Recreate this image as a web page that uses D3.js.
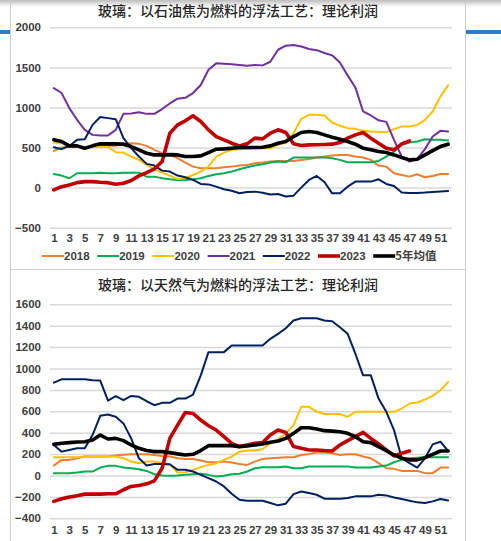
<!DOCTYPE html>
<html><head><meta charset="utf-8">
<script src="https://cdn.jsdelivr.net/npm/d3@7"></script>
<style>
html,body{margin:0;padding:0;background:#fff;}
svg{display:block;}
</style></head>
<body>
<svg id="c" width="501" height="541"></svg>
<script>
const weeks = d3.range(1, 53);
const xTickLabels = d3.range(1, 52, 2);
const seriesNames = ["2018","2019","2020","2021","2022","2023","5年均值"];
const colors = ["#ED7D31","#00B050","#FFC000","#7030A0","#002060","#C00000","#000000"];
const colorsGas = ["#ED7D31","#00B050","#FFC000","#002060","#002060","#C00000","#000000"];

// Chart 1: petroleum coke
const title1 = "玻璃：以石油焦为燃料的浮法工艺：理论利润";
const ticks1 = [-500, 0, 500, 1000, 1500, 2000];
const coke2018 = [458,500,512,512,492,512,521,521,521,546,554,546,521,471,429,408,367,312,262,242,242,242,254,262,275,283,304,312,325,333,333,333,346,358,375,387,400,408,408,387,375,346,275,262,179,158,137,167,129,146,171,171];
const coke2019 = [171,150,117,179,179,179,187,179,179,187,187,187,137,137,117,104,96,96,104,117,146,167,179,200,229,254,275,292,312,325,317,375,375,375,375,375,367,346,317,317,317,317,333,387,450,533,562,575,604,596,596,587];
const coke2020 = [562,554,533,512,504,508,512,504,442,437,388,346,283,229,187,150,108,117,158,200,262,387,437,471,480,485,487,490,492,533,562,679,858,908,908,900,812,771,742,733,708,700,696,692,729,762,762,783,846,950,1138,1275];
const coke2021 = [1242,1180,992,846,720,658,650,650,721,920,925,940,920,920,980,1050,1110,1120,1180,1280,1470,1550,1545,1540,1530,1520,1530,1525,1570,1720,1770,1780,1760,1730,1715,1680,1650,1560,1400,1250,950,900,840,820,596,387,325,360,480,637,708,700];
const coke2022 = [504,480,520,596,604,783,880,867,854,617,492,388,296,275,212,200,150,129,96,46,40,12,-20,-40,-70,-55,-50,-65,-85,-80,-110,-100,0,96,146,70,-71,-71,12,75,75,75,104,46,21,-62,-68,-66,-62,-55,-48,-42];
const coke2023 = [-29,12,33,62,75,75,67,62,42,54,88,146,187,233,325,679,783,833,896,825,720,637,596,554,520,546,617,608,679,721,688,546,525,533,535,538,542,562,617,658,688,617,554,492,471,546,583];
const coke5y = [596,575,521,521,492,521,546,546,546,542,512,471,429,408,408,412,408,388,388,396,437,479,483,492,500,500,500,504,521,554,575,637,688,700,688,658,629,604,575,542,492,471,450,437,408,375,346,354,408,462,512,542];

// Chart 2: natural gas
const title2 = "玻璃：以天然气为燃料的浮法工艺：理论利润";
const ticks2 = [-400, -200, 0, 200, 400, 600, 800, 1000, 1200, 1400, 1600];
const gas2018 = [93,146,146,161,177,177,177,177,186,195,198,198,198,192,183,177,161,155,155,140,124,124,130,121,108,99,130,155,161,167,170,170,192,202,214,214,208,192,198,198,177,161,115,68,62,43,43,43,22,22,74,74];
const gas2019 = [22,22,22,28,37,37,74,90,90,74,68,59,43,12,0,-3,0,6,12,16,6,-9,-3,12,16,37,68,78,78,78,84,68,68,84,84,84,84,84,84,74,74,74,84,93,124,146,161,167,170,170,170,170];
const gas2020 = [170,170,170,170,177,177,177,177,177,161,130,115,130,130,115,99,28,31,53,78,99,115,146,177,223,233,233,248,301,338,394,471,642,642,595,574,574,574,549,595,595,595,595,595,595,626,673,682,710,744,797,874];
const gas2021 = [868,899,899,899,899,890,887,700,741,704,744,735,694,657,679,679,719,719,756,936,1153,1153,1153,1215,1215,1215,1215,1215,1277,1324,1376,1448,1469,1469,1469,1448,1441,1386,1324,1138,936,936,719,595,425,161,115,74,161,291,316,229];
const gas2022 = [285,223,239,254,254,378,558,570,549,487,347,161,93,108,108,105,53,53,37,6,-25,-56,-102,-171,-226,-236,-236,-236,-257,-279,-264,-174,-149,-164,-180,-217,-217,-217,-211,-195,-195,-195,-180,-186,-205,-220,-236,-251,-257,-242,-220,-233];
const gas2023 = [-242,-217,-202,-189,-174,-174,-174,-171,-171,-133,-102,-93,-78,-50,68,347,471,589,580,518,465,425,363,301,270,285,301,307,378,425,403,270,254,239,239,233,229,285,326,363,403,347,295,239,183,208,229];
const gas5y = [291,301,307,313,316,332,378,341,347,326,285,254,233,223,223,214,202,192,198,233,279,279,279,279,270,276,285,295,310,322,347,394,446,446,434,419,415,409,394,363,316,307,270,233,192,161,146,146,167,198,229,229];

const svg = d3.select("#c");
const FONT = "'Liberation Sans', Arial, sans-serif";
const CJK = "'Noto Sans CJK SC', sans-serif";

// page frame
const grad = svg.append("defs").append("linearGradient").attr("id","tg").attr("x1",0).attr("y1",0).attr("x2",0).attr("y2",1);
grad.append("stop").attr("offset","0%").attr("stop-color","#bdbdbd");
grad.append("stop").attr("offset","100%").attr("stop-color","#ffffff");
svg.append("rect").attr("x",0).attr("y",0).attr("width",501).attr("height",7).attr("fill","url(#tg)");
svg.append("rect").attr("x",0).attr("y",30).attr("width",10).attr("height",4).attr("fill","#2A7DC8");
svg.append("rect").attr("x",466).attr("y",30).attr("width",35).attr("height",4).attr("fill","#2A7DC8");
svg.append("line").attr("x1",10.5).attr("x2",10.5).attr("y1",2).attr("y2",541).attr("stroke","#d0d0d0");
svg.append("line").attr("x1",465.5).attr("x2",465.5).attr("y1",2).attr("y2",541).attr("stroke","#d0d0d0");
svg.append("line").attr("x1",10.5).attr("x2",465.5).attr("y1",269.5).attr("y2",269.5).attr("stroke","#d0d0d0");

const x = d3.scalePoint().domain(weeks).range([50, 452]).padding(0.5);

function drawChart(cfg) {
  const g = svg.append("g");
  const y = d3.scaleLinear().domain(cfg.domain).range(cfg.range);
  g.append("text").attr("x", 238).attr("y", cfg.titleY).attr("text-anchor","middle")
    .attr("font-family", CJK).attr("font-size", 14).attr("font-weight", 500).attr("fill","#262626").text(cfg.title);
  // grid
  const ax = d3.axisLeft(y).tickValues(cfg.ticks).tickSize(-402).tickPadding(9).tickFormat(d3.format("d"));
  const ga = g.append("g").attr("transform","translate(50,0)").call(ax);
  ga.select(".domain").remove();
  ga.selectAll(".tick line").attr("stroke","#d9d9d9").attr("stroke-width",1.5);
  ga.selectAll(".tick text").attr("font-family",FONT).attr("font-size",11.5).attr("font-weight","bold").attr("fill","#404040");
  // x axis labels
  const xa = d3.axisBottom(x).tickValues(xTickLabels).tickSize(0).tickPadding(0);
  const gx = g.append("g").attr("transform",`translate(0,${cfg.xLabelY})`).call(xa);
  gx.select(".domain").remove();
  gx.selectAll(".tick text").attr("font-family",FONT).attr("font-size",11.5).attr("font-weight","bold").attr("fill","#404040").attr("dy","0");
  const line = d3.line().x((d,i)=>x(weeks[i])).y(d=>y(d)).curve(d3.curveLinear);
  cfg.series.forEach((s, i) => {
    const thick = i >= 5;
    g.append("path").datum(s).attr("fill","none").attr("stroke",cfg.colors[i])
      .attr("stroke-width", thick ? 3.6 : 2).attr("stroke-linejoin","round").attr("stroke-linecap","round")
      .attr("d", line);
  });
  if (cfg.legendY) {
    const lg = g.append("g");
    seriesNames.forEach((n, i) => {
      const lx = 42 + i * 55.2;
      lg.append("line").attr("x1",lx).attr("x2",lx+22).attr("y1",cfg.legendY-4).attr("y2",cfg.legendY-4)
        .attr("stroke",cfg.colors[i]).attr("stroke-width", i >= 5 ? 3.6 : 2);
      lg.append("text").attr("x",lx+22).attr("y",cfg.legendY).attr("font-family", i===6 ? CJK : FONT)
        .attr("font-size",11.5).attr("font-weight","bold").attr("fill","#404040").text(n);
    });
  }
}

drawChart({
  title: title1, titleY: 16, domain: [-500, 2000], range: [227.7, 27.3], ticks: ticks1,
  xLabelY: 242, legendY: 260, colors: colors,
  series: [coke2018, coke2019, coke2020, coke2021, coke2022, coke2023, coke5y]
});
drawChart({
  title: title2, titleY: 290, domain: [-400, 1600], range: [518.3, 304.3], ticks: ticks2,
  xLabelY: 534, legendY: null, colors: colorsGas,
  series: [gas2018, gas2019, gas2020, gas2021, gas2022, gas2023, gas5y]
});
</script>
</body></html>
